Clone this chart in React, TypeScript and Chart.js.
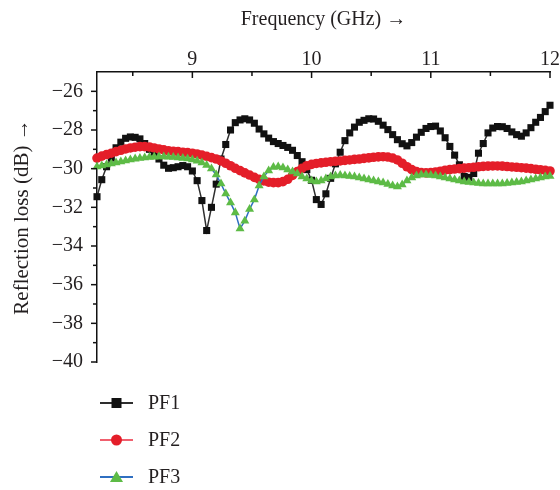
import React, { useEffect, useRef } from 'react';
import { Chart, registerables } from 'chart.js';

Chart.register(...registerables);

// Frequency samples (GHz)
const freqGHz = [
  8.20, 8.24, 8.28, 8.32, 8.36, 8.40, 8.44, 8.48, 8.52, 8.56,
  8.60, 8.64, 8.68, 8.72, 8.76, 8.80, 8.84, 8.88, 8.92, 8.96,
  9.00, 9.04, 9.08, 9.12, 9.16, 9.20, 9.24, 9.28, 9.32, 9.36,
  9.40, 9.44, 9.48, 9.52, 9.56, 9.60, 9.64, 9.68, 9.72, 9.76,
  9.80, 9.84, 9.88, 9.92, 9.96, 10.00, 10.04, 10.08, 10.12, 10.16,
  10.20, 10.24, 10.28, 10.32, 10.36, 10.40, 10.44, 10.48, 10.52, 10.56,
  10.60, 10.64, 10.68, 10.72, 10.76, 10.80, 10.84, 10.88, 10.92, 10.96,
  11.00, 11.04, 11.08, 11.12, 11.16, 11.20, 11.24, 11.28, 11.32, 11.36,
  11.40, 11.44, 11.48, 11.52, 11.56, 11.60, 11.64, 11.68, 11.72, 11.76,
  11.80, 11.84, 11.88, 11.92, 11.96, 12.00,
];

// Reflection loss (dB)
const pf1 = [
  -31.45, -30.57, -29.90, -29.45, -28.92, -28.63, -28.43, -28.36, -28.38, -28.46,
  -28.70, -29.00, -29.15, -29.50, -29.82, -29.98, -29.95, -29.90, -29.84, -29.90,
  -30.12, -30.62, -31.65, -33.20, -32.00, -30.80, -29.50, -28.75, -28.00, -27.62,
  -27.48, -27.42, -27.48, -27.65, -27.95, -28.20, -28.42, -28.60, -28.70, -28.80,
  -28.90, -29.05, -29.32, -29.64, -30.05, -30.60, -31.60, -31.85, -31.30, -30.50,
  -29.75, -29.15, -28.55, -28.15, -27.85, -27.60, -27.50, -27.42, -27.43, -27.55,
  -27.75, -27.98, -28.24, -28.50, -28.71, -28.82, -28.65, -28.37, -28.12, -27.92,
  -27.82, -27.80, -28.05, -28.40, -28.85, -29.30, -29.80, -30.40, -30.45, -30.25,
  -29.20, -28.70, -28.15, -27.90, -27.82, -27.83, -27.92, -28.10, -28.24, -28.32,
  -28.15, -27.88, -27.60, -27.35, -27.05, -26.72,
];

const pf2 = [
  -29.45, -29.35, -29.27, -29.20, -29.12, -29.05, -28.98, -28.93, -28.89, -28.86,
  -28.86, -28.88, -28.93, -28.98, -29.03, -29.08, -29.10, -29.12, -29.15, -29.17,
  -29.20, -29.24, -29.30, -29.36, -29.43, -29.50, -29.60, -29.72, -29.85, -29.98,
  -30.10, -30.22, -30.33, -30.45, -30.55, -30.63, -30.70, -30.72, -30.72, -30.67,
  -30.55, -30.35, -30.15, -29.98, -29.85, -29.78, -29.73, -29.70, -29.67, -29.64,
  -29.62, -29.60, -29.57, -29.55, -29.52, -29.50, -29.47, -29.44, -29.41, -29.39,
  -29.38, -29.40, -29.45, -29.55, -29.72, -29.90, -30.05, -30.15, -30.20, -30.22,
  -30.20, -30.17, -30.13, -30.08, -30.05, -30.02, -30.00, -29.97, -29.95, -29.93,
  -29.90, -29.88, -29.87, -29.86, -29.86, -29.87, -29.89, -29.91, -29.93, -29.95,
  -29.97, -30.00, -30.03, -30.06, -30.09, -30.12,
];

const pf3 = [
  -29.90, -29.85, -29.79, -29.74, -29.69, -29.64, -29.59, -29.53, -29.49, -29.46,
  -29.43, -29.41, -29.39, -29.38, -29.38, -29.39, -29.41, -29.43, -29.46, -29.48,
  -29.53, -29.60, -29.69, -29.82, -30.00, -30.31, -30.78, -31.29, -31.76, -32.27,
  -33.10, -32.70, -32.10, -31.60, -30.88, -30.41, -30.10, -29.92, -29.90, -29.95,
  -30.05, -30.16, -30.26, -30.41, -30.52, -30.62, -30.67, -30.62, -30.52, -30.41,
  -30.36, -30.34, -30.36, -30.39, -30.41, -30.47, -30.52, -30.57, -30.62, -30.67,
  -30.72, -30.80, -30.88, -30.93, -30.83, -30.62, -30.47, -30.36, -30.31, -30.31,
  -30.34, -30.36, -30.41, -30.47, -30.52, -30.57, -30.62, -30.67, -30.70, -30.72,
  -30.75, -30.78, -30.78, -30.78, -30.78, -30.78, -30.75, -30.72, -30.70, -30.67,
  -30.62, -30.57, -30.52, -30.47, -30.41, -30.39,
];

const seriesLabels = ['PF1', 'PF2', 'PF3'];
const xTickValues = [8.5, 9, 9.5, 10, 10.5, 11, 11.5, 12];
const xRange = [8.2, 12];
const yRange = [-40, -25];
const xTitle = 'Frequency (GHz) →';
const yTitle = 'Reflection loss (dB) →';

const FONT = "'Liberation Serif', 'Times New Roman', serif";
const TEXT = '#231f20';

const tickMarksPlugin = {
  id: 'tickMarks',
  afterDraw(chart: any) {
    const { ctx, chartArea } = chart;
    const xs = chart.scales.x;
    const ys = chart.scales.y;
    ctx.save();
    ctx.strokeStyle = '#111';
    ctx.lineWidth = 1.5;
    xs.ticks.forEach((t: any) => {
      const px = xs.getPixelForValue(t.value);
      const len = Number.isInteger(t.value) ? 6 : 4;
      ctx.beginPath();
      ctx.moveTo(px, chartArea.top);
      ctx.lineTo(px, chartArea.top + len);
      ctx.stroke();
    });
    ys.ticks.forEach((t: any) => {
      if (t.value >= yRange[1]) return;
      const py = ys.getPixelForValue(t.value);
      const len = t.value % 2 === 0 ? 6 : 4;
      ctx.beginPath();
      ctx.moveTo(chartArea.left - len, py);
      ctx.lineTo(chartArea.left, py);
      ctx.stroke();
    });
    ctx.restore();
  },
};

const legendPlugin = {
  id: 'listLegend',
  afterDraw(chart: any) {
    const { ctx, chartArea } = chart;
    const x0 = chartArea.left + 3;
    const x1 = chartArea.left + 36;
    const mx = (x0 + x1) / 2;
    ctx.save();
    chart.data.datasets.forEach((ds: any, i: number) => {
      const y = chartArea.bottom + 41 + i * 37;
      ctx.strokeStyle = ds.borderColor;
      ctx.lineWidth = 2;
      ctx.beginPath();
      ctx.moveTo(x0, y);
      ctx.lineTo(x1, y);
      ctx.stroke();
      ctx.fillStyle = ds.pointBackgroundColor;
      ctx.beginPath();
      if (ds.pointStyle === 'rect') {
        ctx.rect(mx - 5, y - 5, 10, 10);
      } else if (ds.pointStyle === 'circle') {
        ctx.arc(mx, y, 5.5, 0, Math.PI * 2);
      } else {
        ctx.moveTo(mx, y - 6);
        ctx.lineTo(mx + 6.5, y + 5);
        ctx.lineTo(mx - 6.5, y + 5);
        ctx.closePath();
      }
      ctx.fill();
      ctx.fillStyle = TEXT;
      ctx.font = `20px ${FONT}`;
      ctx.textAlign = 'left';
      ctx.textBaseline = 'middle';
      ctx.fillText(ds.label, chartArea.left + 51, y + 1);
    });
    ctx.restore();
  },
};

export default function App() {
  const canvasRef = useRef<HTMLCanvasElement | null>(null);

  useEffect(() => {
    const canvas = canvasRef.current;
    if (!canvas) return;
    const toPoints = (vals: number[]) => freqGHz.map((f, i) => ({ x: f, y: vals[i] }));
    const chart = new Chart(canvas, {
      type: 'line',
      data: {
        datasets: [
          {
            label: seriesLabels[0],
            data: toPoints(pf1),
            borderColor: '#2e2e2e',
            borderWidth: 1.5,
            pointStyle: 'rect',
            pointRadius: 5,
            pointBackgroundColor: '#111111',
            pointBorderWidth: 0,
            order: 2,
            clip: 8,
          },
          {
            label: seriesLabels[1],
            data: toPoints(pf2),
            borderColor: '#f0606e',
            borderWidth: 1.5,
            pointStyle: 'circle',
            pointRadius: 4.8,
            pointBackgroundColor: '#e41e29',
            pointBorderWidth: 0,
            order: 1,
            clip: 8,
          },
          {
            label: seriesLabels[2],
            data: toPoints(pf3),
            borderColor: '#2f6fc1',
            borderWidth: 1.5,
            pointStyle: 'triangle',
            pointRadius: 5.2,
            pointBackgroundColor: '#5dbb46',
            pointBorderWidth: 0,
            order: 0,
            clip: 8,
          },
        ] as any,
      },
      options: {
        animation: false,
        responsive: false,
        devicePixelRatio: 1,
        layout: { padding: { left: 0, top: 0, right: 9, bottom: 128 } },
        plugins: {
          legend: { display: false },
          tooltip: { enabled: false },
        },
        elements: { line: { tension: 0 } },
        scales: {
          x: {
            type: 'linear',
            position: 'top',
            min: xRange[0],
            max: xRange[1],
            afterBuildTicks: (scale: any) => {
              scale.ticks = xTickValues.map((v) => ({ value: v }));
            },
            afterFit: (scale: any) => {
              scale.height = 72;
            },
            ticks: {
              autoSkip: false,
              maxRotation: 0,
              padding: 0,
              color: TEXT,
              font: { family: FONT, size: 20 },
              callback: (v: any) => (Number.isInteger(v) ? String(v) : ''),
            },
            grid: {
              display: true,
              drawOnChartArea: false,
              drawTicks: false,
            },
            border: { display: true, color: '#111', width: 1.5 },
            title: {
              display: true,
              text: xTitle,
              color: TEXT,
              font: { family: FONT, size: 20 },
              padding: { top: 8, bottom: 0 },
            },
          },
          y: {
            type: 'linear',
            min: yRange[0],
            max: yRange[1],
            afterFit: (scale: any) => {
              scale.width = 97;
            },
            ticks: {
              stepSize: 1,
              autoSkip: false,
              padding: 14,
              color: TEXT,
              font: { family: FONT, size: 20 },
              callback: (v: any) =>
                v % 2 === 0 && v < yRange[1] ? '\u2212' + Math.abs(v) : '',
            },
            grid: {
              display: true,
              drawOnChartArea: false,
              drawTicks: false,
            },
            border: { display: true, color: '#111', width: 1.5 },
            title: {
              display: true,
              text: yTitle,
              color: TEXT,
              font: { family: FONT, size: 21 },
              padding: { top: 10, bottom: 0 },
            },
          },
        },
      } as any,
      plugins: [tickMarksPlugin, legendPlugin],
    });
    return () => chart.destroy();
  }, []);

  return (
    <div style={{ position: 'absolute', left: 0, top: 0, width: 560, height: 490, background: '#fff' }}>
      <canvas ref={canvasRef} width={560} height={490} />
    </div>
  );
}
